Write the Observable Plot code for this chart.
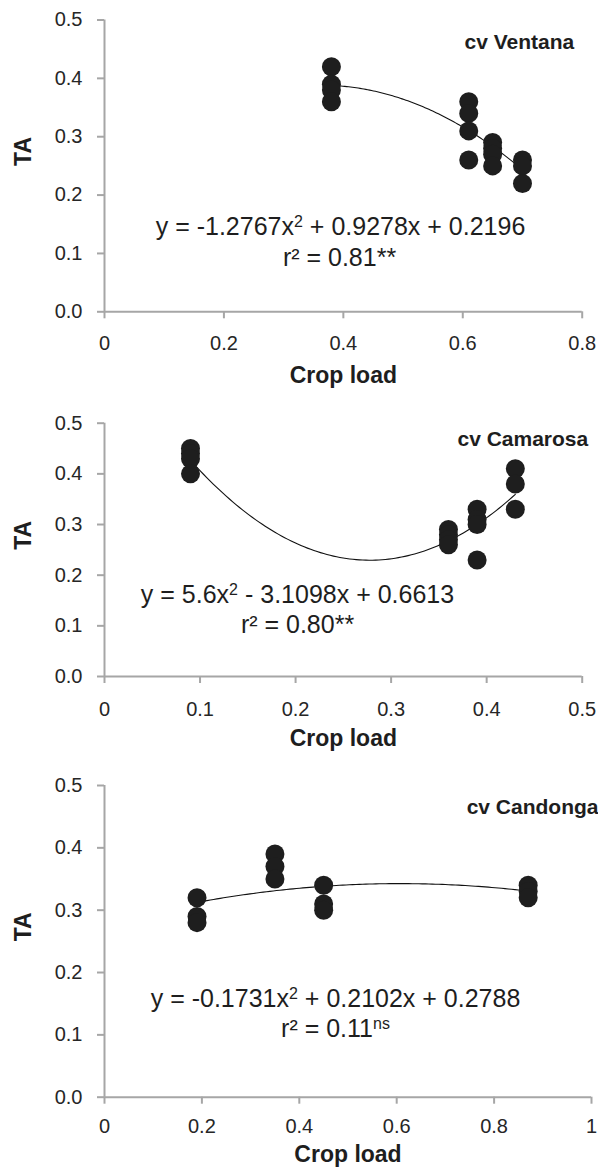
<!DOCTYPE html>
<html><head><meta charset="utf-8">
<script src="https://cdn.jsdelivr.net/npm/d3@7"></script>
<script src="https://cdn.jsdelivr.net/npm/@observablehq/plot@0.6"></script>
<style>
body{margin:0;background:#fff;}
#chart{width:598px;}
#chart svg{display:block;overflow:visible;}
</style></head><body><div id="chart"></div>
<script>
// ---- data ----
const ventanaX = [0.38,0.38,0.38,0.38, 0.61,0.61,0.61,0.61, 0.65,0.65,0.65,0.65, 0.70,0.70,0.70];
const ventanaY = [0.42,0.39,0.38,0.36, 0.36,0.34,0.31,0.26, 0.29,0.28,0.27,0.25, 0.26,0.25,0.22];
const camarosaX = [0.09,0.09,0.09,0.09, 0.36,0.36,0.36,0.36, 0.39,0.39,0.39,0.39, 0.43,0.43,0.43];
const camarosaY = [0.45,0.44,0.43,0.40, 0.29,0.28,0.27,0.26, 0.33,0.31,0.30,0.23, 0.41,0.38,0.33];
const candongaX = [0.19,0.19,0.19, 0.35,0.35,0.35, 0.45,0.45,0.45, 0.87,0.87,0.87];
const candongaY = [0.32,0.29,0.28, 0.39,0.37,0.35, 0.34,0.31,0.30, 0.34,0.33,0.32];
// quadratic trend-line coefficients [a, b, c] as printed on the chart
const ventanaFit = [-1.2767, 0.9278, 0.2196];
const camarosaFit = [5.6, -3.1098, 0.6613];
const candongaFit = [-0.1731, 0.2102, 0.2788];
const titles = ["cv Ventana", "cv Camarosa", "cv Candonga"];
const equations = ["y = -1.2767x^2 + 0.9278x + 0.2196", "y = 5.6x^2 - 3.1098x + 0.6613", "y = -0.1731x^2 + 0.2102x + 0.2788"];
const r2Labels = ["r² = 0.81**", "r² = 0.80**", "r² = 0.11^ns"];
const xTicks1 = [0, 0.2, 0.4, 0.6, 0.8];
const xTicks2 = [0, 0.1, 0.2, 0.3, 0.4, 0.5];
const xTicks3 = [0, 0.2, 0.4, 0.6, 0.8, 1];
const yTicks = [0, 0.1, 0.2, 0.3, 0.4, 0.5];
const xLabel = "Crop load";
const yLabel = "TA";

const FONT = "'Liberation Sans', Arial, Helvetica, sans-serif";
const AXIS = "#a6a6a6";
const INK = "#1e1e1e";
const EQ_SIZE = 25;

function curve(fit, xs) {
  const lo = d3.min(xs), hi = d3.max(xs);
  return d3.range(0, 101).map(i => {
    const x = lo + (hi - lo) * i / 100;
    return {x, y: fit[0] * x * x + fit[1] * x + fit[2]};
  });
}

function supers(svg) {
  svg.querySelectorAll("text").forEach(t => {
    const s = t.textContent;
    if (!s.includes("^")) return;
    const parts = s.split(/\^(\w+)/);
    t.textContent = "";
    parts.forEach((p, i) => {
      if (!p) return;
      const ts = document.createElementNS("http://www.w3.org/2000/svg", "tspan");
      ts.textContent = p;
      if (i % 2) { ts.setAttribute("dy", "-8"); ts.setAttribute("font-size", "16"); }
      else if (i > 0) { ts.setAttribute("dy", "8"); }
      t.appendChild(ts);
    });
  });
}

function panel(o) {
  const pts = o.xs.map((x, i) => ({x, y: o.ys[i]}));
  const svg = Plot.plot({
    width: 598, height: o.height,
    marginTop: o.mt, marginBottom: o.mb, marginLeft: 104, marginRight: o.mr,
    style: {fontFamily: FONT, fontSize: "20px", color: "#262626", background: "transparent", overflow: "visible"},
    x: {domain: o.xDomain},
    y: {domain: [0, 0.5]},
    marks: [
      Plot.axisX({ticks: o.xTicks, tickFormat: d => String(d), tickSize: 7, tickPadding: o.xPad, stroke: AXIS, strokeWidth: 2, fill: "#262626", label: null}),
      Plot.axisY({ticks: yTicks, tickFormat: d3.format(".1f"), tickSize: 7, tickPadding: 15, stroke: AXIS, strokeWidth: 2, fill: "#262626", label: null}),
      Plot.ruleY([0], {stroke: AXIS, strokeWidth: 2}),
      Plot.ruleX([o.xDomain[0]], {stroke: AXIS, strokeWidth: 2}),
      Plot.line(curve(o.fit, o.xs), {x: "x", y: "y", stroke: "#111", strokeWidth: 1.1}),
      Plot.dot(pts, {x: "x", y: "y", r: 9.5, fill: INK, stroke: "none"}),
      Plot.text([o.title], {frameAnchor: "top-right", lineAnchor: "middle", dx: o.titleDx, dy: o.titleDy, textAnchor: "end", fontWeight: "bold", fontSize: 21, fill: INK}),
      Plot.text([o.eq], {frameAnchor: "top-left", lineAnchor: "middle", dx: o.eqX - 104, dy: o.eqY - o.mt, textAnchor: "middle", fontSize: EQ_SIZE, fill: INK}),
      Plot.text([o.r2], {frameAnchor: "top-left", lineAnchor: "middle", dx: o.r2X - 104, dy: o.r2Y - o.mt, textAnchor: "middle", fontSize: EQ_SIZE, fill: INK}),
      Plot.text([xLabel], {frameAnchor: "bottom", lineAnchor: "middle", dy: o.xLabDy, fontWeight: "bold", fontSize: 23, fill: INK}),
      Plot.text([yLabel], {frameAnchor: "left", lineAnchor: "middle", dx: 23 - 104, rotate: -90, fontWeight: "bold", fontSize: 23, fill: INK})
    ]
  });
  supers(svg);
  return svg;
}

const root = document.getElementById("chart");
root.appendChild(panel({xs: ventanaX, ys: ventanaY, fit: ventanaFit, xDomain: [0, 0.8], xTicks: xTicks1,
  title: titles[0], eq: equations[0], r2: r2Labels[0],
  height: 390, mt: 19.5, mb: 78.7, mr: 16.3, xPad: 17,
  titleDx: -8, titleDy: 22.5, eqX: 340, eqY: 226, r2X: 339, r2Y: 257, xLabDy: 63.7}));
root.appendChild(panel({xs: camarosaX, ys: camarosaY, fit: camarosaFit, xDomain: [0, 0.5], xTicks: xTicks2,
  title: titles[1], eq: equations[1], r2: r2Labels[1],
  height: 375, mt: 32.7, mb: 89, mr: 16.3, xPad: 18,
  titleDx: 6, titleDy: 16.5, eqX: 297, eqY: 594 - 390, r2X: 297, r2Y: 624 - 390, xLabDy: 62}));
root.appendChild(panel({xs: candongaX, ys: candongaY, fit: candongaFit, xDomain: [0, 1], xTicks: xTicks3,
  title: titles[2], eq: equations[2], r2: r2Labels[2],
  height: 407, mt: 20, mb: 75.3, mr: 7, xPad: 15,
  titleDx: 7, titleDy: 22, eqX: 335, eqY: 998 - 765, r2X: 335, r2Y: 1028 - 765, xLabDy: 57}));
</script></body></html>
